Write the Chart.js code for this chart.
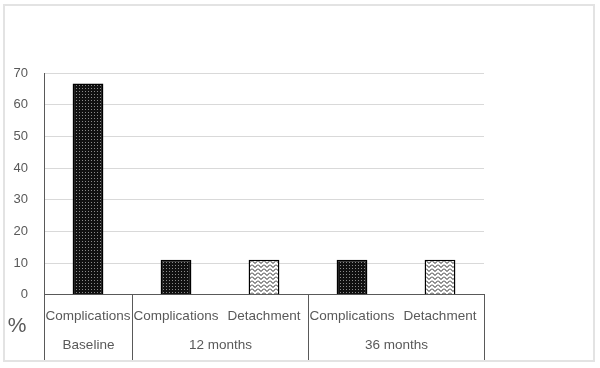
<!DOCTYPE html>
<html>
<head>
<meta charset="utf-8">
<script src="https://cdn.jsdelivr.net/npm/chart.js@4/dist/chart.umd.min.js"></script>
<style>
  html, body { margin: 0; padding: 0; background: #fff; }
  #wrap { width: 600px; height: 368px; position: relative; }
</style>
</head>
<body>
<div id="wrap"><canvas id="chart"></canvas></div>
<script>
// data
const categories = ['Complications', 'Complications', 'Detachment', 'Complications', 'Detachment'];
const values = [66.7, 11.1, 11.1, 11.1, 11.1];
const groups = ['Baseline', '12 months', '36 months'];
const groupSpans = [1, 2, 2];
const yTicks = [0, 10, 20, 30, 40, 50, 60, 70];

const textColor = '#595959';
const font = 'Liberation Sans, Arial, sans-serif';

// dotted dark fill for complications
function dotPattern() {
    const c = document.createElement('canvas');
    c.width = 3; c.height = 3;
    const g = c.getContext('2d');
    g.fillStyle = '#111';
    g.fillRect(0, 0, 3, 3);
    g.fillStyle = '#8a8a8a';
    g.fillRect(1, 1, 1, 1);
    return g.createPattern(c, 'repeat');
}

// wavy light fill for detachment
function wavePattern() {
    const c = document.createElement('canvas');
    c.width = 6; c.height = 4;
    const g = c.getContext('2d');
    g.fillStyle = '#fff';
    g.fillRect(0, 0, 6, 4);
    g.strokeStyle = '#222';
    g.lineWidth = 1;
    g.beginPath();
    g.moveTo(0, 0.5);
    g.lineTo(3, 3.5);
    g.lineTo(6, 0.5);
    g.stroke();
    return g.createPattern(c, 'repeat');
}

const dots = dotPattern();
const waves = wavePattern();

const groupAxis = {
    id: 'groupAxis',
    beforeDraw(chart) {
        const ctx = chart.ctx;
        ctx.save();
        ctx.fillStyle = '#fff';
        ctx.fillRect(0, 0, chart.width, chart.height);
        ctx.strokeStyle = '#e3e3e3';
        ctx.lineWidth = 2;
        ctx.strokeRect(4, 5, 590, 356);
        ctx.restore();
    },
    afterDraw(chart) {
        const ctx = chart.ctx;
        const x = chart.scales.x;
        const area = chart.chartArea;
        const bottom = 360;
        const half = (x.getPixelForValue(1) - x.getPixelForValue(0)) / 2;
        ctx.save();
        ctx.strokeStyle = textColor;
        ctx.lineWidth = 1;
        ctx.fillStyle = textColor;
        ctx.font = '13.5px ' + font;
        ctx.textAlign = 'center';
        ctx.textBaseline = 'middle';
        let start = 0;
        groups.forEach((name, i) => {
            const end = start + groupSpans[i];
            const x0 = Math.round(x.getPixelForValue(start) - half) + 0.5;
            const x1 = Math.round(x.getPixelForValue(end - 1) + half) + 0.5;
            ctx.beginPath();
            ctx.moveTo(x0, area.bottom);
            ctx.lineTo(x0, bottom);
            ctx.moveTo(x1, area.bottom);
            ctx.lineTo(x1, bottom);
            ctx.stroke();
            ctx.fillText(name, (x0 + x1) / 2, 345);
            start = end;
        });
        ctx.font = '21px ' + font;
        ctx.fillText('%', 17, 326);
        ctx.restore();
    }
};

new Chart(document.getElementById('chart'), {
    type: 'bar',
    data: {
        labels: categories,
        datasets: [{
            data: values,
            backgroundColor: categories.map(c => c === 'Detachment' ? waves : dots),
            borderColor: '#000',
            borderWidth: 1.5,
            barPercentage: 0.35,
            categoryPercentage: 1
        }]
    },
    options: {
        responsive: true,
        maintainAspectRatio: false,
        animation: false,
        layout: { padding: { top: 73, right: 116, bottom: 31, left: 0 } },
        plugins: { legend: { display: false }, tooltip: { enabled: false } },
        scales: {
            x: {
                grid: { display: false, drawTicks: false },
                border: { color: textColor, width: 1 },
                ticks: { color: textColor, font: { size: 13.5, family: font }, padding: 13, maxRotation: 0, autoSkip: false }
            },
            y: {
                min: 0,
                max: 70,
                afterBuildTicks: s => { s.ticks = yTicks.map(v => ({ value: v })); },
                afterFit: s => { s.width = 44; },
                grid: { color: '#d9d9d9', drawTicks: false },
                border: { color: textColor, width: 1 },
                ticks: { color: textColor, font: { size: 13, family: font }, padding: 16 }
            }
        }
    },
    plugins: [groupAxis]
});
</script>
</body>
</html>
